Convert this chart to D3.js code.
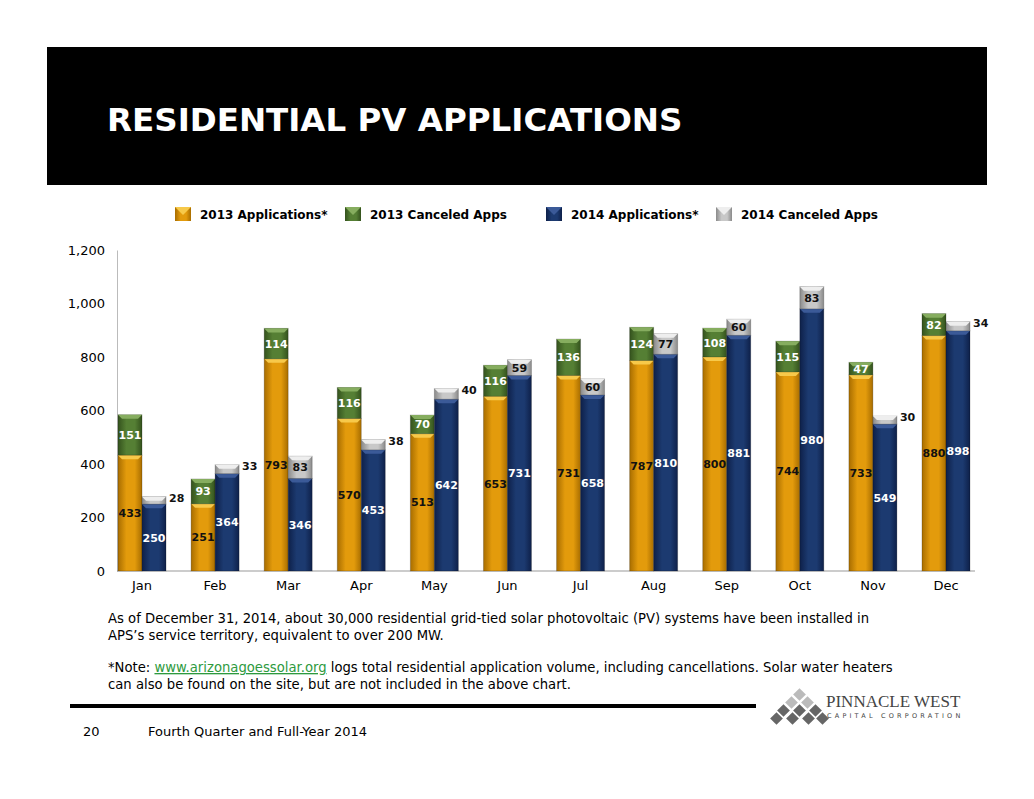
<!DOCTYPE html><html><head><meta charset="utf-8">
<script src="https://cdn.jsdelivr.net/npm/d3@7"></script>
<style>body{margin:0;background:#fff;font-family:Verdana,"DejaVu Sans",sans-serif}</style></head><body>
<svg id="c" width="1034" height="799"></svg>
<script>
const months=["Jan","Feb","Mar","Apr","May","Jun","Jul","Aug","Sep","Oct","Nov","Dec"];
const apps2013=[433,251,793,570,513,653,731,787,800,744,733,880];
const canc2013=[151,93,114,116,70,116,136,124,108,115,47,82];
const apps2014=[250,364,346,453,642,731,658,810,881,980,549,898];
const canc2014=[28,33,83,38,40,59,60,77,60,83,30,34];
const yTicks=[0,200,400,600,800,1000,1200];
const svg=d3.select("#c");
const F="'DejaVu Sans',Verdana,sans-serif";
svg.append("rect").attr("x",47).attr("y",47).attr("width",940).attr("height",138).attr("fill","#000");
svg.append("text").attr("x",107).attr("y",131).attr("fill","#fff").attr("font-family",F).attr("font-weight","bold").attr("font-size",32.5).text("RESIDENTIAL PV APPLICATIONS");
const defs=svg.append("defs");
function grad(id,c1,c2){const g=defs.append("linearGradient").attr("id",id);
g.append("stop").attr("offset","0").attr("stop-color",c2);g.append("stop").attr("offset","0.35").attr("stop-color",c1);g.append("stop").attr("offset","0.7").attr("stop-color",c1);g.append("stop").attr("offset","1").attr("stop-color",c2);}
grad("gO","#e39b0c","#a86d00");grad("gG","#557f34","#34521d");grad("gB","#1c3a70","#0e2049");grad("gS","#c8c8c8","#8a8a8a");
const cols={o:"url(#gO)",g:"url(#gG)",b:"url(#gB)",s:"url(#gS)"};
const caps={o:"#f7c94a",g:"#86ad5f",b:"#3b5a98",s:"#eeeeee"};
const y=d3.scaleLinear().domain([0,1200]).range([571,250]);
const x=d3.scaleBand().domain(months).range([118,970]).paddingInner(0.343).paddingOuter(0);
const xs=d3.scaleBand().domain(["a","b"]).range([0,x.bandwidth()]);
const ax=svg.append("g").attr("transform","translate(117,0)").call(d3.axisLeft(y).tickValues(yTicks).tickSize(0).tickPadding(12).tickFormat(d3.format(",")));
ax.select(".domain").attr("stroke","#bbb");
ax.selectAll("text").attr("font-family",F).attr("font-size",13).attr("fill","#000");
svg.append("line").attr("x1",117).attr("x2",975).attr("y1",571).attr("y2",571).attr("stroke","#999");
const xa=svg.append("g").attr("transform","translate(0,571)").call(d3.axisBottom(x).tickSize(0).tickPadding(10));
xa.select(".domain").remove();xa.selectAll("text").attr("font-family",F).attr("font-size",13).attr("fill","#000");
function seg(xp,w,v0,v1,k,val,tc,outside){
 const yt=y(v1),yb=y(v0);
 svg.append("rect").attr("x",xp).attr("y",yt).attr("width",w).attr("height",yb-yt).attr("fill",cols[k]).attr("stroke","#00000033");
 svg.append("path").attr("d",`M${xp},${yt}L${xp+w},${yt}L${xp+w-4},${yt+4}L${xp+4},${yt+4}Z`).attr("fill",caps[k]);
 const t=svg.append("text").attr("font-family",F).attr("font-weight","bold").attr("font-size",11).attr("fill",tc);
 if(outside) t.attr("x",xp+w+3).attr("y",yt+5).text(val);
 else t.attr("x",xp+w/2).attr("y",(yt+yb)/2+4).attr("text-anchor","middle").text(val);
}
months.forEach((m,i)=>{
 const x0=x(m),w=xs.bandwidth();
 seg(x0,w,0,apps2013[i],"o",apps2013[i],"#111");
 seg(x0,w,apps2013[i],apps2013[i]+canc2013[i],"g",canc2013[i],"#fff");
 seg(x0+w,w,0,apps2014[i],"b",apps2014[i],"#fff");
 seg(x0+w,w,apps2014[i],apps2014[i]+canc2014[i],"s",canc2014[i],"#111",canc2014[i]<50);
});
const leg=[["o","2013 Applications*",175],["g","2013 Canceled Apps",345],["b","2014 Applications*",546],["s","2014 Canceled Apps",716]];
leg.forEach(([k,t,lx])=>{
 svg.append("rect").attr("x",lx).attr("y",207).attr("width",16).attr("height",14).attr("fill",cols[k]);
 svg.append("path").attr("d",`M${lx},207L${lx+16},207L${lx+8},215Z`).attr("fill",caps[k]);
 svg.append("text").attr("x",lx+25).attr("y",219).attr("font-family",F).attr("font-weight","bold").attr("font-size",12).text(t);
});
const FS=13.2;
const ft=[[623,"As of December 31, 2014, about 30,000 residential grid-tied solar photovoltaic (PV) systems have been installed in"],[640,"APS’s service territory, equivalent to over 200 MW."]];
ft.forEach(([yy,t])=>svg.append("text").attr("x",108).attr("y",yy).attr("font-family",F).attr("font-size",FS).text(t));
const n=svg.append("text").attr("x",108).attr("y",672).attr("font-family",F).attr("font-size",FS);
n.append("tspan").text("*Note:  ");n.append("tspan").attr("fill","#2e9a3e").attr("text-decoration","underline").text("www.arizonagoessolar.org");n.append("tspan").text(" logs total residential application volume, including cancellations. Solar water heaters");
svg.append("text").attr("x",108).attr("y",689).attr("font-family",F).attr("font-size",FS).text("can also be found on the site, but are not included in the above chart.");
svg.append("rect").attr("x",70).attr("y",704).attr("width",686).attr("height",4).attr("fill","#000");
svg.append("text").attr("x",83).attr("y",736).attr("font-family",F).attr("font-size",13).text("20");
svg.append("text").attr("x",148).attr("y",736).attr("font-family",F).attr("font-size",13).text("Fourth Quarter and Full-Year 2014");
const lg=svg.append("g").attr("transform","translate(770,690)");
[[25,8],[17,16],[33,16],[9,24],[25,24],[41,24],[2,32],[18,32],[34,32],[48,32]].forEach(([a,b],j)=>lg.append("rect").attr("x",a).attr("y",b-8).attr("width",9).attr("height",9).attr("transform",`rotate(45,${a+4.5},${b-3.5})`).attr("fill",j<3?"#bbb":"#666"));
svg.append("text").attr("x",826).attr("y",707).attr("font-family","'Liberation Serif',serif").attr("font-size",17).attr("fill","#444").text("PINNACLE WEST");
svg.append("text").attr("x",827).attr("y",718).attr("font-family",F).attr("font-size",6.5).attr("letter-spacing",3.2).attr("fill","#444").text("CAPITAL CORPORATION");
</script></body></html>
